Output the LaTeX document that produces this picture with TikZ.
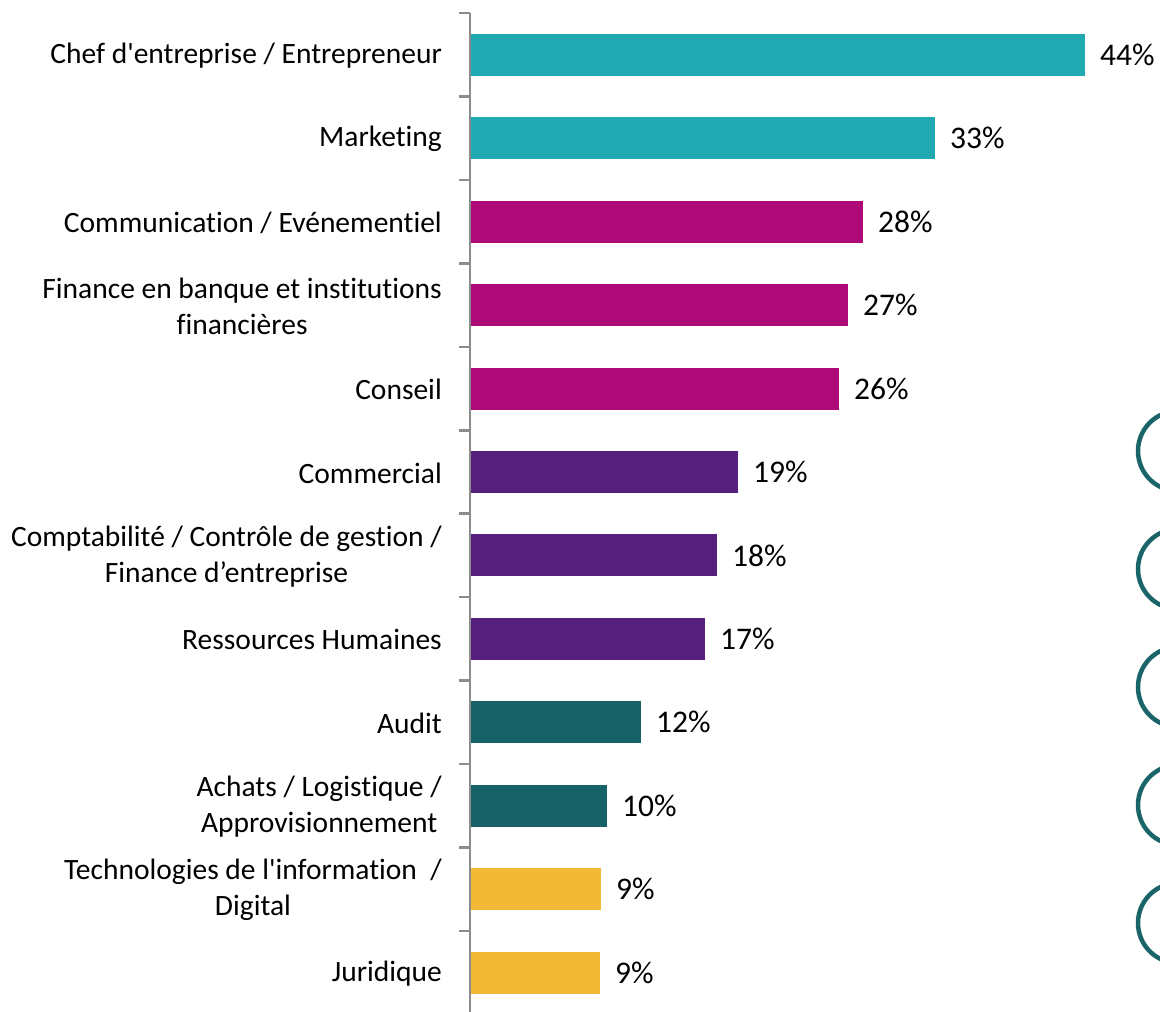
\documentclass[tikz,border=0pt]{standalone}
\usepackage{fontspec}
\setmainfont{Carlito}[Ligatures=NoCommon]
\usetikzlibrary{positioning}

\definecolor{barteal}{HTML}{21A9B2}
\definecolor{barmagenta}{HTML}{AD0A78}
\definecolor{barpurple}{HTML}{56217E}
\definecolor{bardark}{HTML}{166268}
\definecolor{baryellow}{HTML}{F1B935}
\definecolor{ringcol}{HTML}{1A6569}
\definecolor{axisgray}{HTML}{8C8C8C}

\begin{document}
\begin{tikzpicture}[x=1pt,y=-1pt]
\tikzset{catlabel/.style={anchor=east,align=center,inner sep=0pt,
           font=\fontsize{29.5}{36}\selectfont},
         pctlabel/.style={anchor=west,inner sep=0pt,
           font=\fontsize{31.5}{36}\selectfont},
         axisline/.style={draw=axisgray,line width=2.5pt},
         ring/.style={draw=ringcol,line width=4.5pt}}
\useasboundingbox (0,0) rectangle (1160,1012);
% bars, category labels and values
\foreach \i/\w/\c/\t/\p in {
    1/1085/barteal/{Chef d\textquotesingle entreprise / Entrepreneur}/44,
    2/935/barteal/{Marketing}/33,
    3/863/barmagenta/{Communication / Evénementiel}/28,
    4/848/barmagenta/{Finance en banque et institutions\\financières}/27,
    5/839/barmagenta/{Conseil}/26,
    6/738/barpurple/{Commercial}/19,
    7/717/barpurple/{Comptabilité / Contrôle de gestion /\\Finance d’entreprise}/18,
    8/705/barpurple/{Ressources Humaines}/17,
    9/641/bardark/{Audit}/12,
    10/607/bardark/{Achats / Logistique /\\Approvisionnement}/10,
    11/601/baryellow/{Technologies de l\textquotesingle information\ \ /\\Digital}/9,
    12/600/baryellow/{Juridique}/9}
{
  \pgfmathsetmacro\yc{13+83.45*(\i-0.5)}
  \fill[\c] (471,\yc-21) rectangle (\w,\yc+21);
  \coordinate (end\i) at (\w,\yc);
  \node[catlabel] (lab\i) at (442,\yc+1) {\t};
  \node[pctlabel,right=15pt of end\i] (pct\i) {\p\%};
}
% axis with ticks
\draw[axisline] (470,13) -- (470,1012);
\foreach \k in {0,...,11}
  \draw[axisline] (459,13+83.45*\k) -- (470,13+83.45*\k);
% rings at the right edge
\foreach \yr in {451,569,687,805,923}
  \draw[ring] (1178,\yr) circle (40pt);
\end{tikzpicture}
\end{document}
